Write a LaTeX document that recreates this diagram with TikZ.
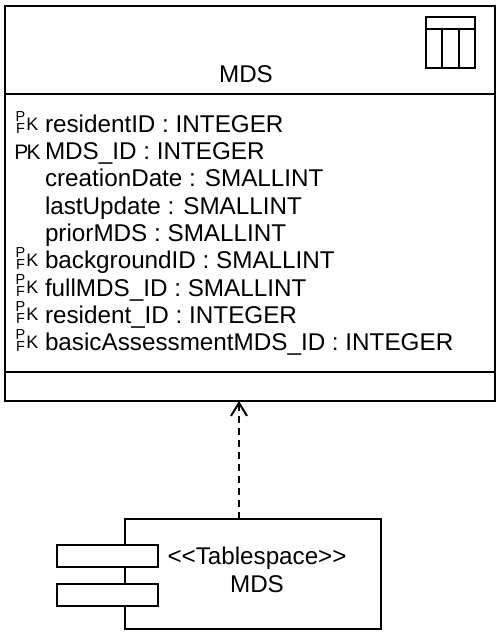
\documentclass[tikz,border=0pt]{standalone}
\usepackage{fontspec}
\setmainfont{Liberation Sans}
\usetikzlibrary{arrows.meta,positioning}

\begin{document}
\begin{tikzpicture}[
  x=1pt, y=-1pt,
  >={Straight Barb[length=13pt,width=16pt,line width=2pt]},
  line width=2.2pt,
  classbox/.style={draw, minimum width=490pt, inner sep=0pt, outer sep=0pt},
  attr/.style={inner sep=0pt, outer sep=0pt, text height=19.3pt, text depth=8pt, font=\fontsize{24.25}{27}\selectfont},
  title/.style={inner sep=0pt, align=center, font=\fontsize{24.2}{27.5}\selectfont},
  keysmall/.style={inner sep=0pt, font=\fontsize{14.5}{14.5}\selectfont},
  keykay/.style={inner sep=0pt, font=\fontsize{18}{18}\selectfont},
  keybig/.style={inner sep=0pt, font=\fontsize{21}{21}\selectfont},
  iconcol/.style={draw, minimum width=16.3pt, minimum height=39pt, inner sep=0pt, outer sep=0pt},
  port/.style={draw, fill=white, minimum width=101pt, minimum height=22pt, inner sep=0pt, outer sep=0pt}
]
  \useasboundingbox (0,0) rectangle (500,634);

  % class box
  \node[classbox, minimum height=88pt, anchor=north west] (head) at (5,6) {};
  \node[classbox, minimum height=278pt, below=0pt of head] (body) {};
  \node[classbox, minimum height=29pt, below=0pt of body] (foot) {};
  \node[title] (name) at (246,74) {MDS};

  % table icon
  \node[draw, minimum width=49pt, minimum height=12pt, inner sep=0pt, outer sep=0pt, anchor=north west] (iconhead) at (426,17) {};
  \node[iconcol, below right=0pt and 0pt of iconhead.south west] (iconl) {};
  \node[iconcol, right=0pt of iconl] (iconm) {};
  \node[iconcol, right=0pt of iconm] (iconr) {};

  % attributes
  \node[attr, anchor=north west] (rowa) at (45,113) {residentID : INTEGER};
  \node[attr, below right=0pt and 0pt of rowa.south west] (rowb) {MDS\_ID : INTEGER};
  \node[attr, below right=0pt and 0pt of rowb.south west] (rowc) {creationDate : SMALLINT};
  \node[attr, below right=0pt and 0pt of rowc.south west] (rowd) {lastUpdate : SMALLINT};
  \node[attr, below right=0pt and 0pt of rowd.south west] (rowe) {priorMDS : SMALLINT};
  \node[attr, below right=0pt and 0pt of rowe.south west] (rowf) {backgroundID : SMALLINT};
  \node[attr, below right=0pt and 0pt of rowf.south west] (rowg) {fullMDS\_ID : SMALLINT};
  \node[attr, below right=0pt and 0pt of rowg.south west] (rowh) {resident\_ID : INTEGER};
  \node[attr, below right=0pt and 0pt of rowh.south west] (rowi) {basicAssessmentMDS\_ID : INTEGER};

  % key marks
  \node[keybig] (pkb) at (27.5,152) {P\kern-2pt K};
  \foreach \row/\ypos in {a/124, f/260, g/287, h/314, i/342} {
    \node[keysmall] (p\row) at (20.5,\ypos-7) {P};
    \node[keysmall] (f\row) at (20.5,\ypos+4.5) {F};
    \node[keykay] (k\row) at (32.5,\ypos) {K};
  }

  % tablespace component
  \node[draw, minimum width=256pt, minimum height=110pt, inner sep=0pt, outer sep=0pt, anchor=north west] (space) at (125,519) {};
  \node[title] (spacename) at (257,570) {<{}<Tablespace>{}>\\MDS};
  \node[port, anchor=north west] (porta) at (57,545) {};
  \node[port, anchor=north west] (portb) at (57,584) {};

  \coordinate (target) at (239,401);
  \draw[->, dashed, dash pattern=on 7pt off 5pt] (space.north -| target) -- (target);
\end{tikzpicture}
\end{document}
